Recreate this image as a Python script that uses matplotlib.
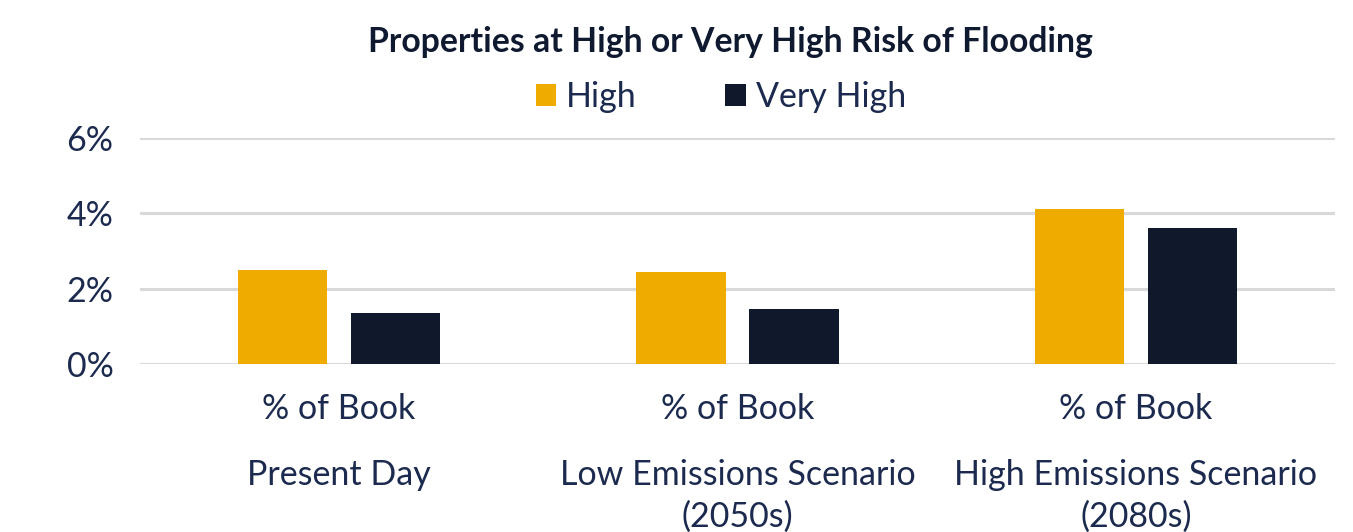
import matplotlib.pyplot as plt
import numpy as np

# data
groups = ['Present Day', 'Low Emissions Scenario\n(2050s)', 'High Emissions Scenario\n(2080s)']
sub_label = '% of Book'
high = [2.50, 2.44, 4.11]
very_high = [1.35, 1.46, 3.61]
yticks = [0, 2, 4, 6]

navy = '#1b2a4e'
gold = '#f0ab00'
dark = '#10192b'

plt.rcParams['font.family'] = ['Lato', 'DejaVu Sans']

fig = plt.figure(figsize=(13.53, 5.32), dpi=100)
ax = fig.add_axes([140 / 1353, 1 - 364 / 532, 1195 / 1353, 226 / 532])

x = np.arange(len(groups))
w = 0.224
off = 0.142
ax.bar(x - off, high, w, color=gold, label='High', zorder=3)
ax.bar(x + off, very_high, w, color=dark, label='Very High', zorder=3)

ax.set_xlim(-0.5, 2.5)
ax.set_ylim(0, 6)
ax.set_yticks(yticks)
ax.set_yticklabels([f'{t}%' for t in yticks], fontsize=24.5, color=navy)
ax.yaxis.grid(True, color='#d9d9d9', linewidth=2.2, zorder=0)
ax.tick_params(axis='y', length=0, pad=19)
ax.set_xticks([])
for s in ax.spines.values():
    s.set_visible(False)

for i, g in enumerate(groups):
    ax.text(i, -1.19, sub_label, ha='center', va='center', fontsize=24.5, color=navy)
    for j, line in enumerate(g.split('\n')):
        ax.text(i, -2.95 - 1.11 * j, line, ha='center', va='center',
                fontsize=24.5, color=navy)

fig.text(730 / 1353, 1 - 42 / 532, 'Properties at High or Very High Risk of Flooding',
         ha='center', va='center', fontsize=24.3, fontweight='bold', color='#0f1a30')

leg = fig.legend(loc='center', bbox_to_anchor=(721 / 1353, 1 - 97 / 532), ncol=2,
                 frameon=False, fontsize=24.5, handlelength=0.6, handleheight=0.6,
                 handletextpad=0.3, columnspacing=2.6)
for t in leg.get_texts():
    t.set_color(navy)

fig.savefig('out.png', dpi=100)
